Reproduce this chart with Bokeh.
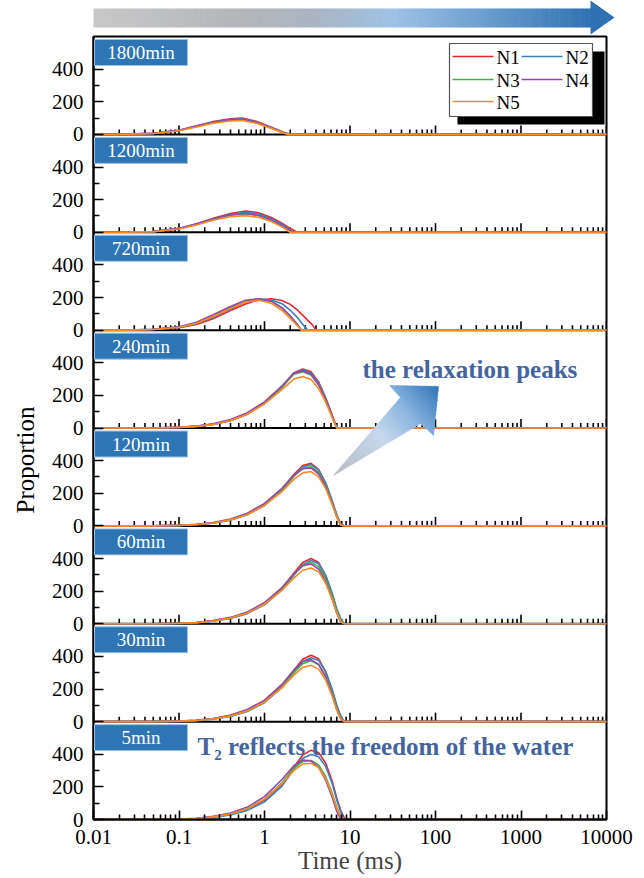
import numpy as np
from bokeh.plotting import figure
from bokeh.layouts import column
from bokeh.models import Range1d, FixedTicker, Title
from bokeh.core.properties import value
from bokeh.embed import file_html
from bokeh.resources import INLINE

# ---------------- data ----------------
panel_labels = ["1800min", "1200min", "720min", "240min", "120min", "60min", "30min", "5min"]
series_names = ["N1", "N2", "N3", "N4", "N5"]
series_colors = ["#e8262e", "#3a7fc0", "#45b048", "#9648a8", "#ff8a24"]
x_tick_values = [0.01, 0.1, 1, 10, 100, 1000, 10000]
x_tick_labels = ["0.01", "0.1", "1", "10", "100", "1000", "10000"]
y_tick_values = [0, 200, 400]
y_tick_labels = ["0", "200", "400"]
y_minor_values = [100, 300, 500]
panel_span = 600  # y range of one panel

t_1800 = [0.01, 0.02, 0.05, 0.1, 0.16, 0.25, 0.4, 0.55, 0.8, 1.1, 1.4, 1.7, 1.9, 2.0, 10000]
v_1800 = [
    [0, 0, 6, 25, 52, 78, 95, 100, 80, 52, 30, 12, 4, 0, 0],
    [0, 0, 6, 24, 50, 75, 91, 95, 76, 49, 28, 10, 2, 0, 0],
    [0, 0, 5, 23, 48, 72, 87, 90, 72, 46, 25, 8, 0, 0, 0],
    [0, 0, 6, 25, 50, 74, 89, 92, 73, 47, 26, 9, 1, 0, 0],
    [0, 0, 5, 22, 45, 68, 82, 85, 68, 43, 23, 7, 0, 0, 0],
]
t_1200 = [0.01, 0.02, 0.05, 0.1, 0.16, 0.25, 0.4, 0.6, 0.85, 1.2, 1.6, 2.0, 2.2, 2.4, 10000]
v_1200 = [
    [0, 0, 4, 22, 50, 85, 115, 130, 120, 90, 55, 24, 12, 0, 0],
    [0, 0, 4, 22, 50, 83, 110, 122, 112, 83, 48, 15, 0, 0, 0],
    [0, 0, 4, 22, 48, 80, 104, 112, 102, 74, 40, 7, 0, 0, 0],
    [0, 0, 5, 24, 52, 83, 107, 115, 104, 74, 40, 7, 0, 0, 0],
    [0, 0, 4, 20, 45, 74, 95, 102, 92, 66, 33, 0, 0, 0, 0],
]
t_720 = [0.01, 0.025, 0.05, 0.1, 0.16, 0.25, 0.4, 0.6, 0.85, 1.2, 1.6, 2.0, 2.4, 2.7, 3.2, 3.6, 4.0, 10000]
v_720 = [
    [0, 0, 4, 15, 35, 70, 120, 160, 185, 192, 182, 158, 125, 100, 60, 35, 0, 0],
    [0, 0, 4, 17, 40, 78, 130, 172, 190, 185, 162, 122, 80, 45, 0, 0, 0, 0],
    [0, 0, 5, 19, 44, 86, 138, 178, 190, 176, 135, 85, 38, 0, 0, 0, 0, 0],
    [0, 0, 5, 21, 48, 94, 145, 183, 192, 178, 138, 88, 38, 0, 0, 0, 0, 0],
    [0, 0, 4, 18, 42, 84, 132, 172, 183, 165, 122, 72, 30, 0, 0, 0, 0, 0],
]
t_late = [0.01, 0.05, 0.1, 0.16, 0.25, 0.4, 0.63, 1.0, 1.6, 2.2, 2.8, 3.5, 4.3, 5.2, 6.2, 7.0, 7.8, 8.6, 9.5, 10000]
v_240 = [
    [0, 0, 4, 10, 22, 45, 85, 150, 250, 338, 362, 345, 282, 185, 78, 0, 0, 0, 0, 0],
    [0, 0, 4, 10, 22, 46, 86, 152, 250, 335, 355, 338, 276, 180, 75, 0, 0, 0, 0, 0],
    [0, 0, 5, 11, 24, 48, 88, 154, 250, 330, 345, 325, 265, 172, 70, 0, 0, 0, 0, 0],
    [0, 0, 5, 12, 26, 52, 94, 160, 258, 336, 350, 330, 265, 170, 68, 0, 0, 0, 0, 0],
    [0, 0, 4, 10, 22, 46, 85, 148, 235, 300, 315, 298, 242, 158, 62, 0, 0, 0, 0, 0],
]
v_120 = [
    [0, 0, 3, 8, 18, 38, 72, 130, 225, 315, 370, 383, 345, 262, 150, 65, 10, 0, 0, 0],
    [0, 0, 3, 7, 16, 35, 68, 125, 218, 305, 360, 376, 342, 262, 152, 68, 12, 0, 0, 0],
    [0, 0, 3, 8, 18, 38, 72, 130, 222, 305, 352, 362, 328, 250, 142, 60, 8, 0, 0, 0],
    [0, 0, 4, 9, 20, 42, 78, 138, 230, 310, 350, 355, 318, 240, 135, 55, 5, 0, 0, 0],
    [0, 0, 3, 8, 18, 38, 70, 125, 210, 285, 325, 333, 300, 228, 130, 55, 5, 0, 0, 0],
]
v_60 = [
    [0, 0, 3, 8, 18, 36, 68, 124, 218, 310, 375, 400, 375, 295, 180, 85, 20, 0, 0, 0],
    [0, 0, 2, 6, 15, 32, 62, 116, 208, 298, 362, 388, 368, 295, 185, 92, 30, 0, 0, 0],
    [0, 0, 3, 7, 17, 35, 66, 122, 214, 300, 358, 376, 350, 276, 168, 80, 18, 0, 0, 0],
    [0, 0, 3, 8, 19, 39, 72, 130, 222, 305, 355, 366, 335, 258, 150, 65, 10, 0, 0, 0],
    [0, 0, 3, 7, 17, 35, 66, 120, 205, 280, 328, 342, 318, 248, 148, 68, 12, 0, 0, 0],
]
v_30 = [
    [0, 0, 3, 8, 18, 36, 68, 124, 220, 315, 382, 407, 385, 305, 190, 95, 28, 0, 0, 0],
    [0, 0, 2, 6, 15, 32, 62, 116, 208, 300, 368, 392, 375, 305, 195, 100, 35, 0, 0, 0],
    [0, 0, 3, 7, 17, 35, 66, 122, 212, 298, 355, 373, 350, 280, 175, 85, 22, 0, 0, 0],
    [0, 0, 3, 8, 19, 40, 74, 132, 228, 315, 368, 380, 350, 272, 165, 75, 15, 0, 0, 0],
    [0, 0, 3, 7, 17, 35, 66, 120, 208, 285, 332, 345, 322, 255, 155, 72, 15, 0, 0, 0],
]
v_5 = [
    [0, 0, 2, 6, 15, 32, 62, 118, 215, 320, 395, 425, 410, 345, 235, 130, 55, 8, 0, 0],
    [0, 0, 2, 5, 13, 28, 56, 108, 205, 305, 375, 398, 385, 325, 220, 120, 45, 0, 0, 0],
    [0, 0, 2, 6, 15, 32, 64, 125, 225, 315, 355, 362, 335, 262, 160, 75, 15, 0, 0, 0],
    [0, 0, 3, 8, 19, 40, 76, 140, 245, 330, 365, 360, 320, 240, 135, 50, 0, 0, 0, 0],
    [0, 0, 2, 6, 16, 34, 66, 125, 220, 300, 340, 345, 318, 250, 152, 70, 12, 0, 0, 0],
]
panel_times = [t_1800, t_1200, t_720, t_late, t_late, t_late, t_late, t_late]
panel_values = [v_1800, v_1200, v_720, v_240, v_120, v_60, v_30, v_5]

# ---------------- layout helpers (screen px -> data) ----------------
W, H_TOP, H_MAIN = 644, 35, 843
X0, X1 = 93, 606          # frame left/right (page px)
Y0, Y1 = 36, 819          # frame top/bottom (page px)
NP = len(panel_labels)
YMAX = NP * panel_span
PANEL_PX = (Y1 - Y0) / NP


def sx(px):
    return 10 ** (-2 + 6 * (px - X0) / (X1 - X0))


def sy(py):
    return (Y1 - py) / (Y1 - Y0) * YMAX


def px_to_dy(n):
    return n * panel_span / PANEL_PX


def hex2rgb(h):
    return tuple(int(h[i:i + 2], 16) for i in (1, 3, 5))


def grad(stops, f):
    for (f0, c0), (f1, c1) in zip(stops[:-1], stops[1:]):
        if f <= f1:
            u = (f - f0) / (f1 - f0) if f1 > f0 else 0
            a, b = hex2rgb(c0), hex2rgb(c1)
            return "#%02x%02x%02x" % tuple(round(a[i] + (b[i] - a[i]) * u) for i in range(3))
    return stops[-1][1]


SERIF = "Liberation Serif"

# ---------------- top gradient arrow ----------------
top = figure(width=W, height=H_TOP, x_range=Range1d(0, W), y_range=Range1d(H_TOP, 0),
             x_axis_location=None, y_axis_location=None, min_border=0,
             output_backend="svg", toolbar_location=None)
top.frame_align = False
top.grid.visible = False
top.outline_line_color = None
bar_stops = [(0, "#c8c8c8"), (0.3, "#b3b5b9"), (0.45, "#a9b5c3"), (0.6, "#9fc2e5"), (1, "#2e72b3")]
nb = 150
edges = np.linspace(93, 592, nb + 1)
bar_cols = [grad(bar_stops, (i + 0.5) / nb) for i in range(nb)]
top.quad(left=edges[:-1], right=edges[1:] + 0.6, top=8, bottom=27, fill_color=bar_cols, line_color=None)
top.patch([590, 614, 590], [0, 17, 34], fill_color="#2e72b3", line_color=None)

# ---------------- main stacked figure ----------------
p = figure(width=W, height=H_MAIN, frame_width=X1 - X0, frame_height=Y1 - Y0,
           x_axis_type="log", x_range=Range1d(0.01, 10000), y_range=Range1d(0, YMAX),
           min_border_left=X0, min_border_right=W - X1, min_border_top=1,
           min_border_bottom=H_MAIN - 1 - (Y1 - Y0),
           output_backend="svg", toolbar_location=None)
p.frame_align = False
p.grid.visible = False
p.outline_line_color = "black"
p.outline_line_width = 2

x_minor = [m * 10.0 ** e for e in range(-2, 4) for m in range(2, 10)]
p.xaxis.ticker = FixedTicker(ticks=x_tick_values, minor_ticks=x_minor)
p.xaxis.major_label_overrides = dict(zip(x_tick_values, x_tick_labels))
p.yaxis.ticker = FixedTicker(
    ticks=[j * panel_span + v for j in range(NP) for v in y_tick_values],
    minor_ticks=[j * panel_span + v for j in range(NP) for v in y_minor_values])
p.yaxis.major_label_overrides = {j * panel_span + v: lab for j in range(NP)
                                 for v, lab in zip(y_tick_values, y_tick_labels)}
for ax in (p.xaxis[0], p.yaxis[0]):
    ax.axis_line_width = 2
    ax.major_tick_out = 0
    ax.minor_tick_out = 0
    ax.major_tick_line_width = 1.6
    ax.minor_tick_line_width = 1.6
    ax.major_label_text_font = SERIF
    ax.major_label_text_font_size = "21px"
    ax.major_label_text_color = "black"
p.xaxis.major_tick_in = 9
p.xaxis.minor_tick_in = 5
p.yaxis.major_tick_in = 10
p.yaxis.minor_tick_in = 6
p.xaxis.major_label_standoff = 10
p.yaxis.major_label_standoff = 10
p.xaxis.axis_label = "Time (ms)"
p.xaxis.axis_label_text_font = SERIF
p.xaxis.axis_label_text_font_style = "normal"
p.xaxis.axis_label_text_font_size = "25px"
p.xaxis.axis_label_standoff = 0

# shared y label, placed like the original (a little below the frame centre)
p.add_layout(Title(text="Proportion", align="left", offset=Y1 - 513, standoff=19,
                   text_font=SERIF, text_font_size="25px", text_font_style="normal",
                   text_color="black"), "left")

# panel separators and inward ticks of the inner panels
for j in range(1, NP):
    base = j * panel_span
    p.segment(x0=0.01, x1=10000, y0=base, y1=base, line_color="black", line_width=2)
    p.segment(x0=x_tick_values, x1=x_tick_values, y0=base, y1=base + px_to_dy(9),
              line_color="black", line_width=1.6)
    p.segment(x0=x_minor, x1=x_minor, y0=base, y1=base + px_to_dy(5),
              line_color="black", line_width=1.6)

# curves
for k in range(NP):
    base = (NP - 1 - k) * panel_span
    t = panel_times[k]
    for s in range(len(series_names)):
        p.line(t, [v + base for v in panel_values[k][s]], line_color=series_colors[s], line_width=1.6)

# panel label boxes
for k, lab in enumerate(panel_labels):
    ptop = Y0 + k * PANEL_PX
    p.quad(left=sx(94), right=sx(187), top=sy(ptop + 3), bottom=sy(ptop + 29),
           fill_color="#2e75b6", line_color="#9dc3e6", line_width=1, level="overlay")
    p.text(x=[sx(140.5)], y=[sy(ptop + 16)], text=[lab], text_align="center",
           text_baseline="middle", text_color="white", text_font=value(SERIF),
           text_font_size="19px", level="overlay")

# legend (framed with drop shadow)
p.quad(left=sx(457), right=sx(604), top=sy(51), bottom=sy(124), fill_color="black",
       line_color=None, level="overlay")
p.quad(left=sx(449), right=sx(592), top=sy(43), bottom=sy(116), fill_color="white",
       line_color="#555555", line_width=1.2, level="overlay")
leg_pos = [(452, 56), (521, 56), (452, 79), (521, 79), (452, 101)]
for s, (lx, ly) in enumerate(leg_pos):
    p.line([sx(lx), sx(lx + 41)], [sy(ly), sy(ly)], line_color=series_colors[s],
           line_width=1.7, level="overlay")
    p.text(x=[sx(lx + 44)], y=[sy(ly + 1)], text=[series_names[s]], text_align="left",
           text_baseline="middle", text_color="black", text_font=value(SERIF),
           text_font_size="19px", level="overlay")


# middle gradient arrow
def clip(poly, nv, c, sign):
    out = []
    n = len(poly)
    for i in range(n):
        a, b = poly[i], poly[(i + 1) % n]
        da = sign * (a[0] * nv[0] + a[1] * nv[1] - c)
        db = sign * (b[0] * nv[0] + b[1] * nv[1] - c)
        if da >= 0:
            out.append(a)
        if (da >= 0) != (db >= 0):
            u = da / (da - db)
            out.append((a[0] + u * (b[0] - a[0]), a[1] + u * (b[1] - a[1])))
    return out


arrow_poly = [(333, 475), (400, 397), (389, 385), (438, 386), (433, 435), (420, 423)]
d = np.array([438 - 333, 386 - 475], dtype=float)
d /= np.linalg.norm(d)
proj = [q[0] * d[0] + q[1] * d[1] for q in arrow_poly]
pmin, pmax = min(proj), max(proj)
arrow_stops = [(0, "#b9bcc2"), (0.45, "#c6d8ec"), (0.7, "#8db6e0"), (1, "#2f74b8")]
ns = 40
axs, ays, acol = [], [], []
for i in range(ns):
    a = pmin + (pmax - pmin) * i / ns
    b = pmin + (pmax - pmin) * (i + 1) / ns + 0.4
    piece = clip(clip(arrow_poly, d, a, 1), d, b, -1)
    if len(piece) >= 3:
        axs.append([sx(q[0]) for q in piece])
        ays.append([sy(q[1]) for q in piece])
        acol.append(grad(arrow_stops, (i + 0.5) / ns))
p.patches(axs, ays, fill_color=acol, line_color=acol, line_width=0.6, level="overlay")

text_blue = "#44649f"
p.text(x=[sx(362)], y=[sy(369)], text=["the relaxation peaks"], text_align="left",
       text_baseline="alphabetic", text_color=text_blue, text_font=value(SERIF),
       text_font_style="bold", text_font_size="25px", level="overlay")
p.text(x=[sx(197)], y=[sy(746)], text=["T\u2082 reflects the freedom of the water"],
       text_align="left", text_baseline="alphabetic", text_color=text_blue,
       text_font=value(SERIF), text_font_style="bold", text_font_size="25px", level="overlay")

layout = column(top, p, spacing=0)
open("out.html", "w").write(file_html(layout, INLINE))
